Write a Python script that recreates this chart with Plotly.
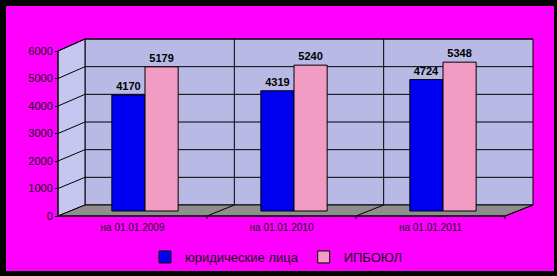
import plotly.graph_objects as go

# ---- data ----
CATEGORIES = ["на 01.01.2009", "на 01.01.2010", "на 01.01.2011"]
LEGAL = [4170, 4319, 4724]
IPBOYUL = [5179, 5240, 5348]
SERIES_NAMES = ["юридические лица", "ИПБОЮЛ"]
Y_TICKS = [0, 1000, 2000, 3000, 4000, 5000, 6000]

W, H = 557, 276
ML, MR, MT, MB = 58, 24, 39, 60
PW, PH = W - ML - MR, H - MT - MB

def px(x):
    return (x - ML) / PW

def py(y):
    return (H - MB - y) / PH

def path(pts):
    s = "M" + " L".join(f"{px(x):.5f},{py(y):.5f}" for x, y in pts) + " Z"
    return s

# geometry of the pseudo-3D box (pixels)
BACK_L, BACK_R, BACK_T, BACK_B = 85, 533, 39, 205
FRONT_L, FRONT_R, FRONT_T, FRONT_B = 58, 505, 51, 216
VMAX = 6000

def yb(v):
    return BACK_B - v / VMAX * (BACK_B - BACK_T)

def yf(v):
    return FRONT_B - v / VMAX * (FRONT_B - FRONT_T)

shapes = []
# magenta page inside the black frame
shapes.append(dict(type="rect", xref="paper", yref="paper", x0=px(6), x1=px(554), y0=py(271), y1=py(6),
                   fillcolor="#ff00ff", line=dict(width=0), layer="below"))
# back wall
shapes.append(dict(type="path", xref="paper", yref="paper", layer="below",
                   path=path([(BACK_L, BACK_T), (BACK_R, BACK_T), (BACK_R, BACK_B), (BACK_L, BACK_B)]),
                   fillcolor="#b9b9e6", line=dict(color="black", width=1)))
# side wall
shapes.append(dict(type="path", xref="paper", yref="paper", layer="below",
                   path=path([(FRONT_L, FRONT_T), (BACK_L, BACK_T), (BACK_L, BACK_B), (FRONT_L, FRONT_B)]),
                   fillcolor="#c6c6f0", line=dict(color="black", width=1)))
# floor
shapes.append(dict(type="path", xref="paper", yref="paper", layer="below",
                   path=path([(FRONT_L, FRONT_B), (BACK_L, BACK_B), (BACK_R, BACK_B), (FRONT_R, FRONT_B)]),
                   fillcolor="#8e8e8e", line=dict(color="black", width=1)))
# gridlines back wall and side wall
for v in Y_TICKS[1:]:
    shapes.append(dict(type="line", xref="paper", yref="paper", layer="below",
                       x0=px(BACK_L), x1=px(BACK_R), y0=py(yb(v)), y1=py(yb(v)),
                       line=dict(color="black", width=1)))
    shapes.append(dict(type="line", xref="paper", yref="paper", layer="below",
                       x0=px(FRONT_L), x1=px(BACK_L), y0=py(yf(v)), y1=py(yb(v)),
                       line=dict(color="black", width=1)))
n = len(CATEGORIES)
bw = (BACK_R - BACK_L) / n
fw = (FRONT_R - FRONT_L) / n
for i in range(1, n):
    shapes.append(dict(type="line", xref="paper", yref="paper", layer="below",
                       x0=px(BACK_L + bw * i), x1=px(BACK_L + bw * i), y0=py(BACK_T), y1=py(BACK_B),
                       line=dict(color="black", width=1)))
for i in range(1, n + 1):
    shapes.append(dict(type="line", xref="paper", yref="paper", layer="below",
                       x0=px(FRONT_L + fw * i), x1=px(BACK_L + bw * i), y0=py(FRONT_B), y1=py(BACK_B),
                       line=dict(color="black", width=1)))
    shapes.append(dict(type="line", xref="paper", yref="paper", layer="below",
                       x0=px(FRONT_L + fw * i), x1=px(FRONT_L + fw * i), y0=py(FRONT_B), y1=py(FRONT_B + 3),
                       line=dict(color="black", width=1)))
# front edges
shapes.append(dict(type="line", xref="paper", yref="paper", layer="below",
                   x0=px(FRONT_L), x1=px(FRONT_L), y0=py(FRONT_T), y1=py(FRONT_B),
                   line=dict(color="black", width=1)))
shapes.append(dict(type="line", xref="paper", yref="paper", layer="below",
                   x0=px(FRONT_L), x1=px(FRONT_R), y0=py(FRONT_B), y1=py(FRONT_B),
                   line=dict(color="black", width=1)))

fig = go.Figure()
fig.add_trace(go.Bar(x=CATEGORIES, y=LEGAL, name=SERIES_NAMES[0],
                     marker=dict(color="#0000f0", line=dict(color="black", width=1)),
                     text=[str(v) for v in LEGAL], textposition="outside",
                     textfont=dict(family="Liberation Sans, Arial", size=11, color="black", weight="bold"),
                     cliponaxis=False, hoverinfo="skip"))
fig.add_trace(go.Bar(x=CATEGORIES, y=IPBOYUL, name=SERIES_NAMES[1],
                     marker=dict(color="#f39cc3", line=dict(color="black", width=1)),
                     text=[str(v) for v in IPBOYUL], textposition="outside",
                     textfont=dict(family="Liberation Sans, Arial", size=11, color="black", weight="bold"),
                     cliponaxis=False, hoverinfo="skip"))
# invisible helper trace for the front (label) axes
fig.add_trace(go.Scatter(x=[0, n - 1], y=[0, 0], xaxis="x2", yaxis="y2", mode="markers",
                         marker=dict(opacity=0), showlegend=False, hoverinfo="skip"))

# axis ranges derived from pixel geometry
bar_c0, cat_w = 145, 149
bar_y0, bar_y6 = 211, 44
k = (bar_y0 - bar_y6) / VMAX
y_lo = -(FRONT_B - bar_y0) / k
y_hi = VMAX + (bar_y6 - MT) / k
k2 = (FRONT_B - FRONT_T) / VMAX
y2_hi = VMAX + (FRONT_T - MT) / k2
front_c0 = FRONT_L + fw / 2

fig.update_layout(
    width=W, height=H,
    margin=dict(l=ML, r=MR, t=MT, b=MB, autoexpand=False),
    paper_bgcolor="black",
    plot_bgcolor="rgba(0,0,0,0)",
    barmode="group", bargap=0.555, bargroupgap=0,
    shapes=shapes,
    font=dict(family="Liberation Sans, Arial", color="black"),
    xaxis=dict(range=[(ML - bar_c0) / cat_w, (W - MR - bar_c0) / cat_w],
               showticklabels=False, showgrid=False, zeroline=False, showline=False, ticks=""),
    yaxis=dict(range=[y_lo, y_hi], showticklabels=False, showgrid=False, zeroline=False,
               showline=False, ticks=""),
    xaxis2=dict(overlaying="x", anchor="y2", side="bottom",
                range=[(ML - front_c0) / fw, (W - MR - front_c0) / fw],
                tickmode="array", tickvals=list(range(n)), ticktext=CATEGORIES,
                tickfont=dict(size=10, color="#111"), ticks="", ticklabelstandoff=4,
                showgrid=False, zeroline=False, showline=False),
    yaxis2=dict(overlaying="y", anchor="free", position=0, side="left",
                range=[0, y2_hi], tickmode="array", tickvals=Y_TICKS,
                ticks="outside", ticklen=3, tickcolor="black",
                tickfont=dict(size=11, color="#111"),
                showgrid=False, zeroline=False, showline=False),
    legend=dict(orientation="h", x=px(276), xanchor="center", y=py(257), yanchor="middle",
                font=dict(size=13, color="#111"), bgcolor="rgba(0,0,0,0)",
                itemwidth=30, tracegroupgap=0),
    showlegend=True,
)

fig.write_html("out.html")
